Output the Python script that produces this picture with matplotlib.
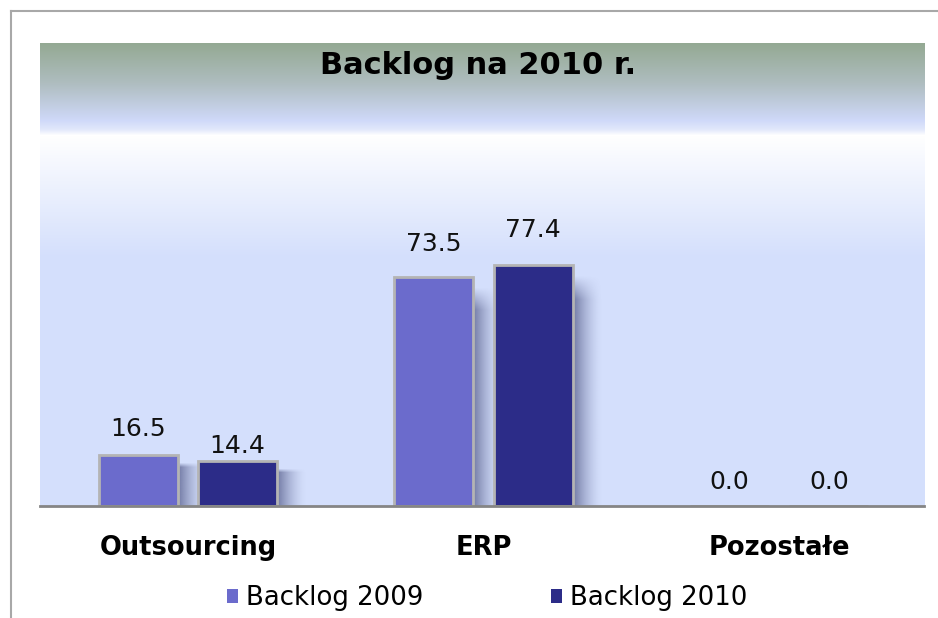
import numpy as np
import matplotlib
matplotlib.use('Agg')
import matplotlib.pyplot as plt
from matplotlib.patches import Rectangle
from matplotlib.lines import Line2D
from matplotlib.colors import to_rgb

categories = ['Outsourcing', 'ERP', 'Pozostałe']
series_names = ['Backlog 2009', 'Backlog 2010']
backlog_2009 = [16.5, 73.5, 0.0]
backlog_2010 = [14.4, 77.4, 0.0]
colors = ['#6b6bcc', '#2c2c88']
# label gap above each bar (axis units), as placed in the original
label_pad_2009 = [6.1, 8.3, 5.5]
label_pad_2010 = [2.6, 9.0, 5.5]

W, H = 938, 618
fig = plt.figure(figsize=(W / 100, H / 100), dpi=100)

def fx(px):
    return px / W

def fy(py):
    return 1 - py / H

# plot area in pixels
left, right, top, base = 40, 924, 43, 506
ax = fig.add_axes([fx(left), fy(base), fx(right - left), (base - top) / H])

# background gradient (top -> bottom)
n = base - top
stops = [(0, '#94a993'), (40, '#afbdc0'), (77, '#cfd9f9'), (86, '#e2e8fb'),
         (92, '#ffffff'), (214, '#d4dffc'), (n, '#d4dffc')]
rows = np.arange(n)
pos = [s[0] for s in stops]
grad = np.zeros((n, 1, 3))
for c in range(3):
    grad[:, 0, c] = np.interp(rows, pos, [to_rgb(s[1])[c] for s in stops])
ax.imshow(grad, extent=[0, 1, 0, 1], transform=ax.transAxes, aspect='auto', zorder=0)

x = np.arange(len(categories))
width = 0.268
off = 0.168

for vals, pads, col, sgn in [(backlog_2009, label_pad_2009, colors[0], -1),
                             (backlog_2010, label_pad_2010, colors[1], 1)]:
    xs = x + sgn * off
    # soft shadows to the right of the bars
    for xi, v in zip(xs, vals):
        if v <= 0:
            continue
        sw = 0.1
        m = 60
        k = 30
        sh = np.zeros((k, m, 4))
        sh[:, :, :3] = to_rgb('#2f3568')
        horiz = np.clip(1 - np.linspace(0, 1, m), 0, 1) ** 1.6
        vert = np.ones(k)
        vert[:4] = np.linspace(0.0, 1.0, 4)
        sh[:, :, 3] = 0.6 * vert[:, None] * horiz[None, :]
        ax.imshow(sh, extent=[xi + width / 2, xi + width / 2 + sw, 0, v - 2.5],
                  aspect='auto', zorder=1, interpolation='bilinear')
    ax.bar(xs, vals, width, color=col, edgecolor='#b4b4b4', linewidth=2, zorder=2)
    for xi, v, p in zip(xs, vals, pads):
        ax.text(xi, v + p, f'{v:.1f}', ha='center', va='baseline', fontsize=18,
                color='#111111', zorder=3)

ax.set_xlim(-0.5, 2.49)
ax.set_ylim(0, 148.7)
ax.set_yticks([])
ax.set_xticks(x)
ax.set_xticklabels(categories, fontsize=18.5, fontweight='bold')
ax.tick_params(axis='x', length=0, pad=21)
for s in ['left', 'right', 'top']:
    ax.spines[s].set_visible(False)
ax.spines['bottom'].set_color('#858585')
ax.spines['bottom'].set_linewidth(2)
ax.spines['bottom'].set_zorder(4)

fig.text(fx(478), fy(65), 'Backlog na 2010 r.', ha='center', va='center',
         fontsize=22, fontweight='bold', color='#000000')

# legend
handles = [Rectangle((0, 0), 1, 1, facecolor=c, edgecolor='none') for c in colors]
fig.legend(handles, series_names, loc='center', bbox_to_anchor=(fx(487), fy(598)),
           ncol=2, frameon=False, fontsize=18.7, handlelength=0.45, handleheight=0.45,
           handletextpad=0.3, columnspacing=4.9)

# outer frame
fig.add_artist(Line2D([fx(10.5), fx(10.5)], [fy(11), 0], color='#a8a8a8', lw=1.5))
fig.add_artist(Line2D([fx(10.5), 1], [fy(11), fy(11)], color='#a8a8a8', lw=1.5))

fig.savefig('out.png', dpi=100)
